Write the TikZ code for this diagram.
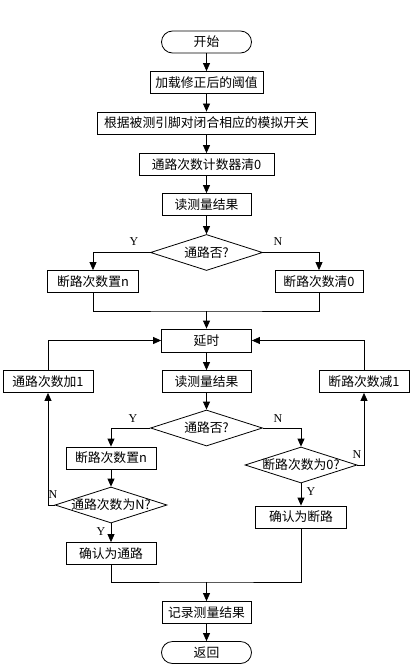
\documentclass[tikz,border=0pt]{standalone}
\usepackage{fontspec}
\setmainfont{Liberation Serif}
\newfontfamily\cjk{Noto Sans CJK SC}
\usetikzlibrary{arrows.meta,positioning,shapes.geometric}

\tikzset{
  proc/.style={draw, rectangle, inner sep=0pt, minimum height=22pt, font=\cjk\fontsize{12.8}{14}\selectfont},
  term/.style={proc, rounded corners=11pt},
  decide/.style={draw, diamond, inner sep=0pt, minimum width=112pt, minimum height=36pt, font=\cjk\fontsize{12.8}{14}\selectfont},
  yn/.style={font=\fontsize{12}{13}\selectfont, inner sep=0pt},
  flow/.style={-{Triangle[length=8pt,width=7pt]}},
}
\newcommand{\dtext}[1]{\makebox[0pt]{#1}}

\begin{document}
\begin{tikzpicture}[x=1pt, y=-1pt, line width=0.8pt]
  \useasboundingbox (0,0) rectangle (411,666);
  % main column
  \node[term, minimum width=90pt] (start) at (206.5,42) {开始};
  \node[proc, minimum width=113pt] (load) at (206.5,82.5) {加载修正后的阈值};
  \node[proc, minimum width=218pt] (switch) at (206.5,123) {根据被测引脚对闭合相应的模拟开关};
  \node[proc, minimum width=135pt] (clear) at (206.5,164.5) {通路次数计数器清0};
  \node[proc, minimum width=89pt] (read1) at (206.5,204.5) {读测量结果};
  \node[decide] (dec1) at (206.5,252.5) {\dtext{通路否?}};
  \node[proc, minimum width=91pt] (brkset1) at (93,281.5) {断路次数置n};
  \node[proc, minimum width=88pt] (brkclr) at (319,281.5) {断路次数清0};
  \coordinate (m1) at (206.5,311);
  \node[proc, minimum width=90pt, minimum height=23pt] (delay) at (206.5,340.5) {延时};
  \node[proc, minimum width=90pt] (inc) at (48,381.5) {通路次数加1};
  \node[proc, minimum width=89pt] (read2) at (206.5,381.5) {读测量结果};
  \node[proc, minimum width=90pt] (dec) at (364,381.5) {断路次数减1};
  \node[decide] (dec2) at (206.5,428) {\dtext{通路否?}};
  \node[proc, minimum width=90pt] (brkset2) at (111,458) {断路次数置n};
  \node[decide] (dec3) at (301,465) {\dtext{断路次数为0?}};
  \node[decide] (dec4) at (111,505) {\dtext{通路次数为N?}};
  \node[proc, minimum width=91pt] (okbreak) at (301,517) {确认为断路};
  \node[proc, minimum width=90pt] (okpass) at (111,553.5) {确认为通路};
  \coordinate (m2) at (206.5,582);
  \node[proc, minimum width=89pt] (record) at (206.5,612.5) {记录测量结果};
  \node[term, minimum width=90pt] (ret) at (206.5,652.5) {返回};

  % connectors
  \draw[flow] (start) -- (load);
  \draw[flow] (load) -- (switch);
  \draw[flow] (switch) -- (clear);
  \draw[flow] (clear) -- (read1);
  \draw[flow] (read1) -- (dec1);
  \draw[flow] (dec1.west) -| (brkset1.north);
  \draw[flow] (dec1.east) -| (brkclr.north);
  \draw (brkset1.south) |- (m1) -| (brkclr.south);
  \draw[flow] (m1) -- (delay);
  \draw[flow] (delay) -- (read2);
  \draw[flow] (read2) -- (dec2);
  \draw[flow] (dec2.west) -| (brkset2.north);
  \draw[flow] (dec2.east) -| (dec3.north);
  \draw[flow] (brkset2) -- (dec4);
  \draw[flow] (dec4) -- (okpass);
  \draw[flow] (dec4.west) -| (inc.south);
  \draw[flow] (inc.north) |- (delay.west);
  \draw[flow] (dec3) -- (okbreak);
  \draw[flow] (dec3.east) -| (dec.south);
  \draw[flow] (dec.north) |- (delay.east);
  \draw (okpass.south) |- (m2) -| (okbreak.south);
  \draw[flow] (m2) -- (record);
  \draw[flow] (record) -- (ret);

  % branch labels
  \node[yn] (y1) at (134,242) {Y};
  \node[yn] (n1) at (278,242) {N};
  \node[yn] (y2) at (133,419) {Y};
  \node[yn] (n2) at (278,419) {N};
  \node[yn] (n3) at (53,495) {N};
  \node[yn] (y3) at (101,532) {Y};
  \node[yn] (n4) at (357,455) {N};
  \node[yn] (y4) at (311,492) {Y};
\end{tikzpicture}
\end{document}
